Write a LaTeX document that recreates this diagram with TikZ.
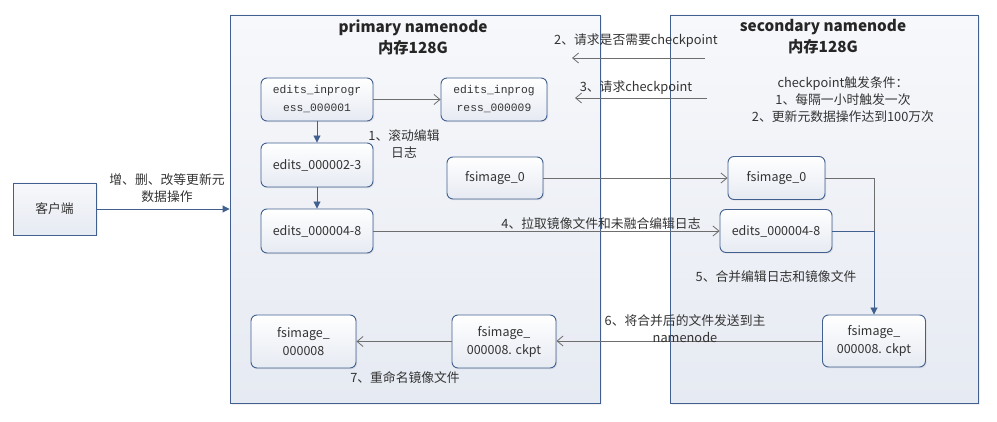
\documentclass[tikz,border=0pt]{standalone}
\usepackage{fontspec}
\setmainfont{Noto Sans CJK SC}
\setmonofont{Liberation Mono}
\usetikzlibrary{arrows.meta,shadows}

\definecolor{nodeborder}{HTML}{41608F}
\definecolor{boxtop}{HTML}{F7F8FB}
\definecolor{boxbottom}{HTML}{E6EAF2}
\definecolor{flowgray}{HTML}{6E6E6E}
\definecolor{textgray}{HTML}{333333}

\begin{document}
\begin{tikzpicture}[
        x=1pt, y=-1pt,
        font=\fontsize{12.8}{17}\selectfont,
        text=textgray,
        container/.style={
            draw=nodeborder,
            line width=0.9pt,
            top color=boxtop,
            bottom color=boxbottom,
            inner sep=0pt,
            drop shadow={opacity=0.12, shadow xshift=1.5pt, shadow yshift=-1.5pt}
        },
        file_node/.style={
            draw=nodeborder,
            line width=0.9pt,
            rounded corners=6pt,
            top color=white,
            bottom color=boxbottom,
            align=center,
            inner sep=1pt,
            font=\fontsize{12.5}{18}\selectfont,
            drop shadow={opacity=0.15, shadow xshift=1.2pt, shadow yshift=-1.2pt}
        },
        title_label/.style={
            font=\fontsize{15.3}{21}\selectfont\bfseries,
            align=center,
            text=black!85
        },
        step_label/.style={
            align=center,
            inner sep=1pt
        },
        blue_flow/.style={
            draw=nodeborder,
            line width=0.9pt,
            -{Triangle[width=7pt,length=7pt]}
        },
        gray_flow/.style={
            draw=flowgray,
            line width=0.8pt,
            -{Straight Barb[length=6pt,width=10pt]}
        }
    ]
        \useasboundingbox (0,0) rectangle (997,422);

        \node[container, minimum width=370pt, minimum height=388pt] (primary) at (415,209) {};
        \node[container, minimum width=308pt, minimum height=388pt] (secondary) at (824,209) {};
        \node[container, minimum width=83pt, minimum height=52pt, font=\fontsize{12.8}{18}\selectfont] (client) at (54.5,209) {客户端};

        \node[title_label] (primary_title) at (413,37) {primary namenode\\内存128G};
        \node[title_label] (secondary_title) at (823,37) {secondary namenode\\内存128G};

        \node[file_node, minimum width=112pt, minimum height=43pt, font=\fontsize{11.3}{18}\ttfamily] (edits_1) at (317,99.5) {edits\_inprogr\\ess\_000001};
        \node[file_node, minimum width=106pt, minimum height=43pt, font=\fontsize{11.3}{18}\ttfamily] (edits_9) at (494,99.5) {edits\_inprog\\ress\_000009};
        \node[file_node, minimum width=112pt, minimum height=44pt] (edits_23) at (317,165) {edits\_000002-3};
        \node[file_node, minimum width=112pt, minimum height=44pt] (edits_48_p) at (317,231) {edits\_000004-8};
        \node[file_node, minimum width=96pt, minimum height=42pt] (fs0_p) at (495,178) {fsimage\_0};
        \node[file_node, minimum width=105pt, minimum height=53pt] (fs8) at (303.5,341.5) {fsimage\_\\000008};
        \node[file_node, minimum width=104pt, minimum height=53pt] (ckpt_p) at (504,341.5) {fsimage\_\\000008. ckpt};

        \node[file_node, minimum width=97pt, minimum height=43pt] (fs0_s) at (776.5,178) {fsimage\_0};
        \node[file_node, minimum width=112pt, minimum height=43pt] (edits_48_s) at (776,231) {edits\_000004-8};
        \node[file_node, minimum width=103pt, minimum height=52pt] (ckpt_s) at (874,341) {fsimage\_\\000008. ckpt};

        \coordinate (req2_start) at (705,58);
        \coordinate (req2_end) at (572,58);
        \coordinate (req3_start) at (707,98);
        \coordinate (req3_end) at (575,98);
        \coordinate (merge_bend) at (874,231);

        \draw[blue_flow] (client) -- (client -| primary.west);
        \draw[gray_flow] (edits_1) -- (edits_9);
        \draw[blue_flow] (edits_1) -- (edits_1 |- edits_23.north);
        \draw[blue_flow] (edits_23) -- (edits_23 |- edits_48_p.north);
        \draw[gray_flow] (fs0_p) -- (fs0_p -| fs0_s.west);
        \draw[gray_flow] (edits_48_p) -- (edits_48_p -| edits_48_s.west);
        \draw[gray_flow] (req2_start) -- (req2_end);
        \draw[gray_flow] (req3_start) -- (req3_end);
        \draw[flowgray, line width=0.8pt] (fs0_s.east) -- (fs0_s.east -| merge_bend) -- (merge_bend);
        \draw[blue_flow] (edits_48_s.east) -- (merge_bend) -- (ckpt_s.north);
        \draw[gray_flow] (ckpt_s) -- (ckpt_s -| ckpt_p.east);
        \draw[gray_flow] (ckpt_p) -- (ckpt_p -| fs8.east);

        \node[step_label] (client_label) at (167,188.5) {增、删、改等更新元\\数据操作};
        \node[step_label] (label_1) at (404,144.5) {1、滚动编辑\\日志};
        \node[step_label] (label_2) at (636,41) {2、请求是否需要checkpoint};
        \node[step_label] (label_3) at (636,88) {3、请求checkpoint};
        \node[step_label] (conditions) at (843,99.5) {checkpoint触发条件：\\1、每隔一小时触发一次\\2、更新元数据操作达到100万次};
        \node[step_label] (label_4) at (601,224) {4、拉取镜像文件和未融合编辑日志};
        \node[step_label] (label_5) at (776,277) {5、合并编辑日志和镜像文件};
        \node[step_label] (label_6) at (685,329) {6、将合并后的文件发送到主\\namenode};
        \node[step_label] (label_7) at (405,378) {7、重命名镜像文件};

    \end{tikzpicture}
\end{document}
